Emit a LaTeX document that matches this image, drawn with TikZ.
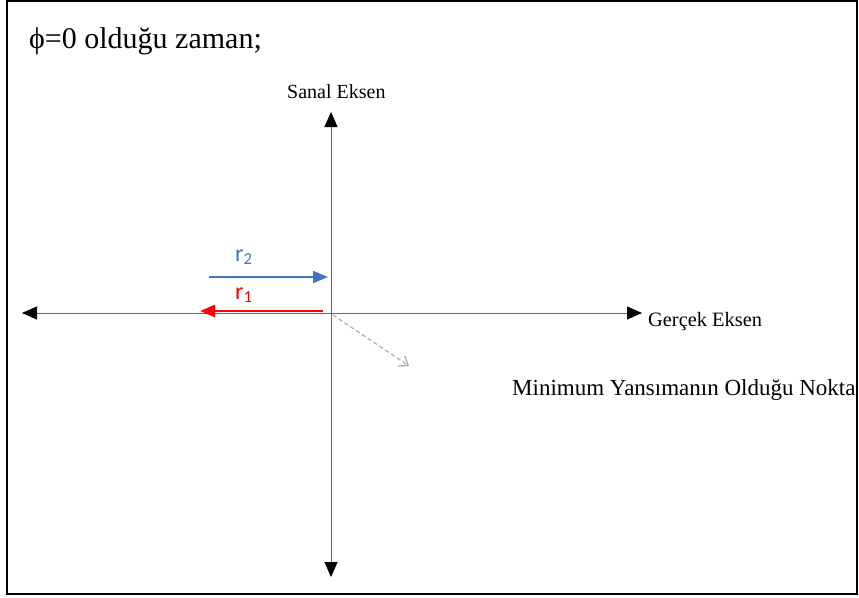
\documentclass[tikz,border=0pt]{standalone}
\usepackage{fontspec}
\setmainfont{Liberation Serif}
\newfontfamily\calib{Carlito}
\usetikzlibrary{arrows.meta}
\definecolor{rblue}{RGB}{68,114,196}
\definecolor{rred}{RGB}{255,0,0}
\definecolor{dgray}{RGB}{170,170,170}
\begin{document}
\begin{tikzpicture}[x=1pt,y=-1pt,
  axis/.style={draw=black!60,line width=0.9pt,-{Triangle[length=15pt,width=13pt,fill=black,color=black]}},
  lbl/.style={inner sep=0pt,anchor=base west},
  vec/.style={line width=1.8pt,-{Triangle[length=15pt,width=12pt]}}]
\useasboundingbox (0,0) rectangle (859,597);
\draw[line width=1.5pt] (7,1) rectangle (857,594);
\node[lbl,font=\fontsize{30}{33}\selectfont] (title) at (29,48) {ϕ=0 olduğu zaman;};
\coordinate (O) at (331,313);
\coordinate (L) at (22,313);
\coordinate (R) at (642,313);
\coordinate (T) at (331,112);
\coordinate (B) at (331,577);
\draw[axis] (O) -- (R);
\draw[axis] (O) -- (L);
\draw[axis] (O) -- (T);
\draw[axis] (O) -- (B);
\node[lbl,font=\fontsize{20}{22}\selectfont] (sanal) at (287,98) {Sanal Eksen};
\node[lbl,font=\fontsize{20.4}{23}\selectfont] (gercek) at (648,326) {Gerçek Eksen};
\node[lbl,font=\fontsize{23}{26}\selectfont] (min) at (512,395) {Minimum Yansımanın Olduğu Nokta};
\coordinate (b1) at (209,277);
\coordinate (b2) at (328,277);
\draw[vec,rblue] (b1) -- (b2);
\coordinate (r1s) at (323,311);
\coordinate (r1e) at (200,311);
\draw[vec,rred,line width=2.6pt] (r1s) -- (r1e);
\node[lbl,text=rblue,font=\calib\fontsize{24}{26}\selectfont] (r2l) at (235,261) {r\textsubscript{2}};
\node[lbl,text=rred,font=\calib\fontsize{24}{26}\selectfont] (r1l) at (235,299) {r\textsubscript{1}};
\coordinate (g1) at (333,315);
\coordinate (g2) at (409,366);
\draw[dgray,line width=1.2pt,dashed,dash pattern=on 4pt off 3pt,-{Straight Barb[length=8pt,width=12pt]}] (g1) -- (g2);
\end{tikzpicture}
\end{document}
